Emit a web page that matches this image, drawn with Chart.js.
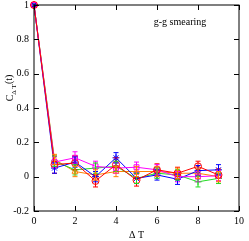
<!DOCTYPE html>
<html>
<head>
<meta charset="utf-8">
<script src="https://cdn.jsdelivr.net/npm/chart.js@4.4.1/dist/chart.umd.min.js"></script>
<style>
  html, body { margin: 0; padding: 0; background: #fff; }
  #wrap { width: 249px; height: 241px; }
</style>
</head>
<body>
<div id="wrap"><canvas id="corr" width="249" height="241"></canvas></div>
<script>
const deltaT = [0, 1, 2, 3, 4, 5, 6, 7, 8, 9];
const xTicks = [0, 2, 4, 6, 8, 10];
const yTicks = [-0.2, 0, 0.2, 0.4, 0.6, 0.8, 1];

const redVals = [1, 0.07, 0.08, -0.025, 0.07, -0.02, 0.04, 0.02, 0.06, 0.01];
const redErr = [0, 0.05, 0.04, 0.035, 0.04, 0.035, 0.035, 0.035, 0.03, 0.035];
const greenVals = [1, 0.09, 0.04, 0.05, 0.06, -0.01, 0.02, 0.01, -0.03, -0.01];
const greenErr = [0, 0.03, 0.03, 0.03, 0.03, 0.03, 0.03, 0.03, 0.03, 0.03];
const blueVals = [1, 0.05, 0.085, 0.0, 0.11, -0.01, 0.01, -0.015, 0.035, 0.04];
const blueErr = [0, 0.03, 0.03, 0.03, 0.03, 0.03, 0.03, 0.03, 0.03, 0.03];
const magentaVals = [1, 0.085, 0.11, 0.06, 0.05, 0.055, 0.04, 0.0, 0.0, 0.005];
const magentaErr = [0, 0.03, 0.035, 0.03, 0.03, 0.03, 0.03, 0.03, 0.03, 0.03];
const orangeVals = [1, 0.1, 0.03, 0.01, 0.03, 0.03, 0.03, 0.02, 0.02, 0.0];
const orangeErr = [0, 0.03, 0.03, 0.03, 0.03, 0.03, 0.03, 0.03, 0.03, 0.03];

const serif = "'Liberation Serif', 'DejaVu Serif', serif";

function series(vals, errs, color, style) {
  return {
    data: deltaT.map((t, i) => ({ x: t, y: vals[i], err: errs[i] })),
    borderColor: color,
    backgroundColor: "rgba(0,0,0,0)",
    borderWidth: 1,
    pointStyle: style,
    pointRadius: 3.5,
    pointBorderWidth: 1,
    pointBorderColor: color,
    tension: 0,
  };
}

// error bars drawn through the scales
const errorBars = {
  id: "errorBars",
  afterDatasetsDraw(chart) {
    const ctx = chart.ctx;
    const xs = chart.scales.x, ys = chart.scales.y;
    ctx.save();
    chart.data.datasets.forEach((ds) => {
      ctx.strokeStyle = ds.borderColor;
      ctx.lineWidth = 1;
      ds.data.forEach((p) => {
        if (!p.err) return;
        const px = xs.getPixelForValue(p.x);
        const top = ys.getPixelForValue(p.y + p.err);
        const bot = ys.getPixelForValue(p.y - p.err);
        ctx.beginPath();
        ctx.moveTo(px, top); ctx.lineTo(px, bot);
        ctx.moveTo(px - 2.5, top); ctx.lineTo(px + 2.5, top);
        ctx.moveTo(px - 2.5, bot); ctx.lineTo(px + 2.5, bot);
        ctx.stroke();
      });
    });
    ctx.restore();
  },
};

// gnuplot-like frame with inward ticks, labels
const frame = {
  id: "frame",
  afterDraw(chart) {
    const ctx = chart.ctx;
    const a = chart.chartArea;
    const xs = chart.scales.x, ys = chart.scales.y;
    ctx.save();
    ctx.strokeStyle = "#000";
    ctx.lineWidth = 1;
    ctx.strokeRect(a.left, a.top, a.right - a.left, a.bottom - a.top);
    ctx.beginPath();
    xTicks.forEach((v) => {
      const px = Math.round(xs.getPixelForValue(v)) + 0.5;
      ctx.moveTo(px, a.bottom); ctx.lineTo(px, a.bottom - 5);
      ctx.moveTo(px, a.top); ctx.lineTo(px, a.top + 5);
    });
    yTicks.forEach((v) => {
      const py = Math.round(ys.getPixelForValue(v)) + 0.5;
      ctx.moveTo(a.left, py); ctx.lineTo(a.left + 5, py);
      ctx.moveTo(a.right, py); ctx.lineTo(a.right - 5, py);
    });
    ctx.stroke();

    ctx.fillStyle = "#000";
    ctx.font = "10px " + serif;
    ctx.textAlign = "center";
    ctx.textBaseline = "alphabetic";
    ctx.fillText("g-g smearing", 180, 25);
    ctx.fillText("\u0394 T", (a.left + a.right) / 2, 238);

    // y label: C with subscript ΔT, then (t), rotated
    ctx.translate(13, 88);
    ctx.rotate(-Math.PI / 2);
    ctx.textAlign = "left";
    ctx.font = "10px " + serif;
    const w1 = ctx.measureText("C").width;
    ctx.font = "7px " + serif;
    const w2 = ctx.measureText("\u0394 T").width;
    ctx.font = "10px " + serif;
    const w3 = ctx.measureText("(t)").width;
    let x0 = -(w1 + w2 + w3) / 2;
    ctx.fillText("C", x0, 0);
    ctx.font = "7px " + serif;
    ctx.fillText("\u0394 T", x0 + w1, 3);
    ctx.font = "10px " + serif;
    ctx.fillText("(t)", x0 + w1 + w2, -1);
    ctx.restore();
  },
};

new Chart(document.getElementById("corr").getContext("2d"), {
  type: "line",
  data: {
    datasets: [
      series(redVals, redErr, "#ff0000", "circle"),
      series(magentaVals, magentaErr, "#ff00ff", "rect"),
      series(blueVals, blueErr, "#0000ff", "star"),
      series(greenVals, greenErr, "#22dd22", "cross"),
      series(orangeVals, orangeErr, "#ff8000", "triangle"),
    ],
  },
  options: {
    responsive: false,
    animation: false,
    clip: false,
    layout: { padding: { top: 4, right: 10, left: 0, bottom: 0 } },
    scales: {
      x: {
        type: "linear",
        min: 0,
        max: 10,
        afterBuildTicks: (s) => { s.ticks = xTicks.map((v) => ({ value: v })); },
        afterFit: (s) => { s.height = 30; s.paddingLeft = 0; s.paddingRight = 0; },
        grid: { display: false, drawTicks: false },
        border: { display: false },
        ticks: { padding: 4, color: "#000", font: { family: serif, size: 10 } },
      },
      y: {
        min: -0.2,
        max: 1,
        afterBuildTicks: (s) => { s.ticks = yTicks.map((v) => ({ value: v })); },
        afterFit: (s) => { s.width = 34; s.paddingTop = 0; s.paddingBottom = 0; },
        grid: { display: false, drawTicks: false },
        border: { display: false },
        ticks: {
          padding: 5,
          color: "#000",
          font: { family: serif, size: 10 },
          callback: (v) => String(Number(v.toFixed(1))),
        },
      },
    },
    plugins: {
      legend: { display: false },
      tooltip: { enabled: false },
    },
  },
  plugins: [errorBars, frame],
});
</script>
</body>
</html>
